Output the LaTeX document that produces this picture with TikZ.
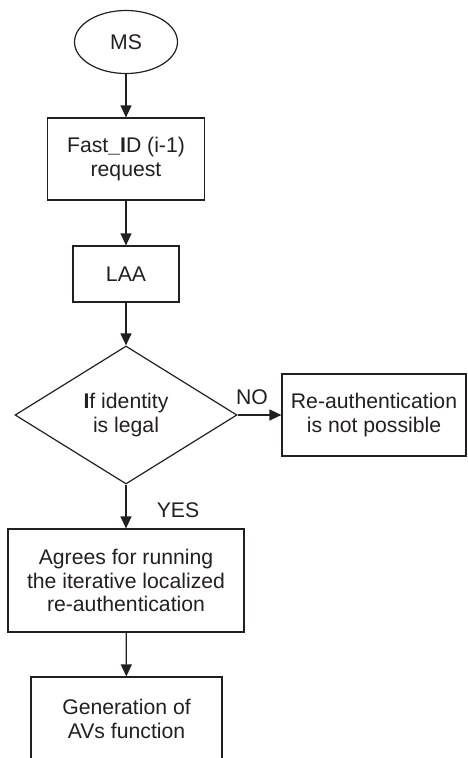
\documentclass[tikz,border=0pt]{standalone}
\usepackage{fontspec}
\setmainfont{Liberation Sans}
\usetikzlibrary{shapes.geometric,arrows.meta}
\definecolor{ink}{RGB}{35,31,32}
\tikzset{
  every node/.style={font=\fontsize{21.2}{23.5}\selectfont, align=center, inner sep=0pt, text=ink},
  boxnode/.style={draw=ink, line width=1.2pt, rectangle},
  flow/.style={draw=ink, line width=1.2pt, -{Triangle[length=12pt,width=11pt]}},
}
\begin{document}
\begin{tikzpicture}[x=1pt,y=-1pt]
\useasboundingbox (0,0) rectangle (467,758);
\clip (0,0) rectangle (467,758);
\node[draw=ink, line width=1.2pt, ellipse, minimum width=103pt, minimum height=63pt] (ms) at (126,42) {MS};
\node[boxnode, minimum width=157pt, minimum height=82pt] (fast) at (126,159) {Fast\textbf{\_I}D (i-1)\\request};
\node[boxnode, minimum width=106pt, minimum height=56pt] (laa) at (126,274) {LAA};
\node[draw=ink, line width=1.2pt, diamond, minimum width=222pt, minimum height=138pt] (dec) at (126,415) {\textbf{I}f identity\\is legal};
\node[boxnode, minimum width=184pt, minimum height=82pt] (no) at (374,415) {Re-authentication\\is not possible};
\node[boxnode, minimum width=236pt, minimum height=103pt] (agree) at (126,580.5) {Agrees for running\\the iterative localized\\re-authentication};
\node[boxnode, minimum width=191pt, minimum height=84pt] (gen) at (126.5,719) {Generation of\\AVs function};
\node (nolbl) at (252,397) {NO};
\node (yeslbl) at (178,510) {YES};
\draw[flow] (ms) -- (fast);
\draw[flow] (fast) -- (laa);
\draw[flow] (laa) -- (dec);
\draw[flow] (dec.east) -- (no.west);
\draw[flow] (dec.south) -- (agree.north);
\draw[flow] (agree) -- (gen);
\end{tikzpicture}
\end{document}
